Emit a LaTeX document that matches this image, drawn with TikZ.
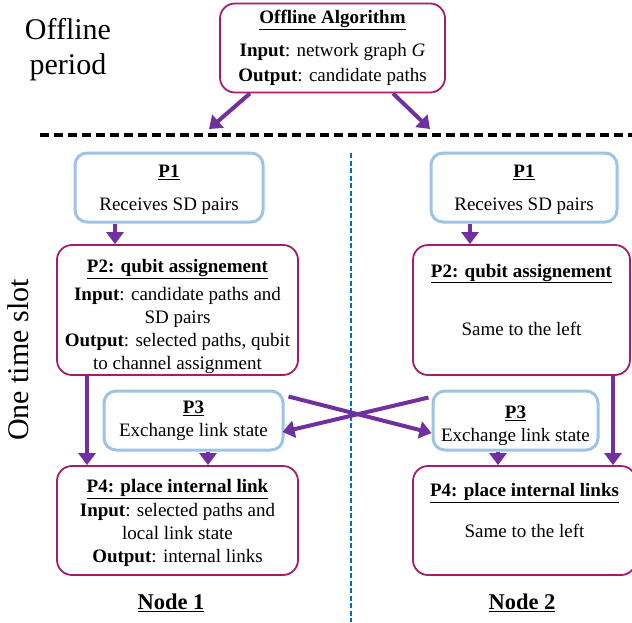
\documentclass[tikz,border=0pt]{standalone}
\usepackage{fontspec}
\setmainfont{Liberation Serif}
\usetikzlibrary{arrows.meta}

\definecolor{plum}{RGB}{165,27,110}
\definecolor{skyline}{RGB}{157,195,230}
\definecolor{flowpurple}{RGB}{112,48,160}
\definecolor{sepblue}{RGB}{0,112,192}

\newcommand{\boxtitle}[1]{\underline{\textbf{#1}}}

\begin{document}
\begin{tikzpicture}[x=1pt, y=-1pt, font=\fontsize{19}{23}\selectfont,
  procbox/.style={draw=plum, line width=1.8pt, rounded corners=15pt, align=center, inner sep=0pt},
  syncbox/.style={draw=skyline, line width=3pt, rounded corners=12pt, align=center, inner sep=0pt},
  arr/.style={flowpurple, line width=4pt, -{Triangle[width=17pt,length=12pt]}}]
  \useasboundingbox (0,0) rectangle (632,622);

  % offline part
  \node[font=\fontsize{30}{35}\selectfont, align=center] (offl) at (68,50) {Offline\\period};
  \node[procbox, minimum width=225pt, minimum height=89pt] (alg) at (332.5,48)
    {\boxtitle{Offline Algorithm}\\[10pt]\textbf{Input}: network graph \textit{G}\\[2pt]\textbf{Output}: candidate paths};
  \coordinate (tl) at (209,129);
  \coordinate (tr) at (430,129);
  \draw[arr] (alg.south -| 250,0) -- (tl);
  \draw[arr] (alg.south -| 393,0) -- (tr);

  \draw[line width=3.5pt, dash pattern=on 9pt off 5pt] (40,135) -- (632,135);
  \draw[sepblue, line width=1.5pt, dash pattern=on 5pt off 2.5pt] (351,153) -- (351,622);

  \node[rotate=90, font=\fontsize{30}{35}\selectfont] (slot) at (18,360) {One time slot};

  % node 1
  \node[syncbox, minimum width=188pt, minimum height=69pt] (p1l) at (169,187.5)
    {\mbox{}\\[-5pt]\boxtitle{P1}\\[10pt]Receives SD pairs};
  \node[procbox, minimum width=241pt, minimum height=130pt] (p2l) at (177.5,310)
    {\mbox{}\\[4pt]\boxtitle{P2: qubit assignement}\\[5pt]\textbf{Input}: candidate paths and\\SD pairs\\\textbf{Output}: selected paths, qubit\\to channel assignment};
  \node[syncbox, minimum width=179pt, minimum height=59pt] (p3l) at (193.5,420.5)
    {\boxtitle{P3}\\Exchange link state};
  \node[procbox, minimum width=241pt, minimum height=109pt] (p4l) at (177.5,520.5)
    {\mbox{}\\[-5pt]\boxtitle{P4: place internal link}\\[1pt]\textbf{Input}: selected paths and\\local link state\\\textbf{Output}: internal links};
  \node[font=\fontsize{22.5}{27}\selectfont\bfseries] (n1) at (171,603) {\underline{Node 1}};

  % node 2
  \node[syncbox, minimum width=186pt, minimum height=69pt] (p1r) at (524,187.5)
    {\mbox{}\\[-5pt]\boxtitle{P1}\\[10pt]Receives SD pairs};
  \node[procbox, minimum width=217pt, minimum height=130pt] (p2r) at (521.5,310)
    {\boxtitle{P2: qubit assignement}\\[35pt]Same to the left\\[-2pt]\mbox{}};
  \node[syncbox, minimum width=165pt, minimum height=59pt] (p3r) at (515.5,420.5)
    {\mbox{}\\\boxtitle{P3}\\Exchange link state};
  \node[procbox, minimum width=223pt, minimum height=109pt] (p4r) at (524.5,520.5)
    {\boxtitle{P4: place internal links}\\[18pt]Same to the left\\[-3pt]\mbox{}};
  \node[font=\fontsize{22.5}{27}\selectfont\bfseries] (n2) at (522,603) {\underline{Node 2}};

  % flows
  \draw[arr] (p1l.south -| 115,0) -- (p2l.north -| 115,0);
  \draw[arr] (p2l.south -| 87,0) -- (p4l.north -| 87,0);
  \draw[arr] (p3l.south -| 208,0) -- (p4l.north -| 208,0);
  \draw[arr] (p1r.south -| 470,0) -- (p2r.north -| 470,0);
  \draw[arr] (p2r.south -| 613,0) -- (p4r.north -| 613,0);
  \draw[arr] (p3r.south -| 498,0) -- (p4r.north -| 498,0);
  \draw[arr] ([xshift=4pt,yshift=-7pt]p3l.north east) -- ([yshift=-12.5pt]p3r.west);
  \draw[arr] ([xshift=-3pt,yshift=-8pt]p3r.north west) -- ([xshift=-2pt,yshift=-11.5pt]p3l.east);
\end{tikzpicture}
\end{document}
